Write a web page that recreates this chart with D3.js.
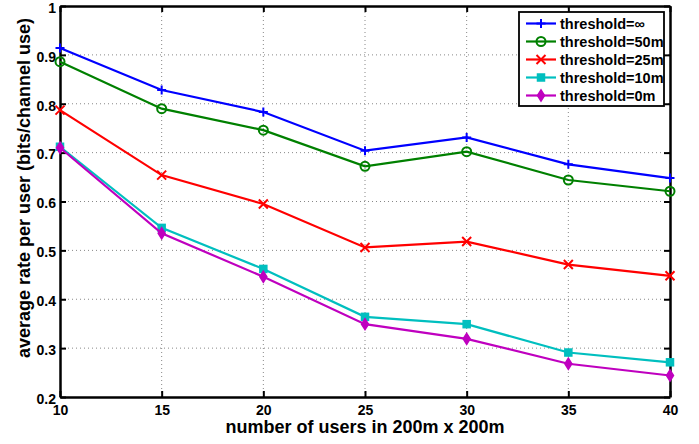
<!DOCTYPE html>
<html>
<head>
<meta charset="utf-8">
<script src="https://cdn.jsdelivr.net/npm/d3@7"></script>
<style>
  body { margin: 0; background: #fff; }
  svg text { font-family: "Liberation Sans", Arial, sans-serif; font-weight: bold; }
</style>
</head>
<body>
<div id="chart"></div>
<script>
// number of users in 200m x 200m
const users = [10, 15, 20, 25, 30, 35, 40];

// average rate per user, one list per threshold
const thrInf = [0.914, 0.828, 0.783, 0.704, 0.731, 0.676, 0.648];
const thr50 = [0.886, 0.790, 0.746, 0.672, 0.702, 0.644, 0.621];
const thr25 = [0.787, 0.654, 0.595, 0.506, 0.518, 0.471, 0.448];
const thr10 = [0.712, 0.546, 0.462, 0.364, 0.349, 0.291, 0.271];
const thr0 = [0.710, 0.535, 0.446, 0.349, 0.319, 0.268, 0.244];

const seriesNames = ['threshold=\u221e', 'threshold=50m', 'threshold=25m', 'threshold=10m', 'threshold=0m'];
const xTicks = [10, 15, 20, 25, 30, 35, 40];
const yTicks = [0.2, 0.3, 0.4, 0.5, 0.6, 0.7, 0.8, 0.9, 1];

const width = 699;
const height = 444;
const margin = { top: 6, right: 29, bottom: 47, left: 60 };

const series = [
  { name: seriesNames[0], values: thrInf, color: '#0000ff', marker: 'plus' },
  { name: seriesNames[1], values: thr50, color: '#008000', marker: 'circle' },
  { name: seriesNames[2], values: thr25, color: '#ff0000', marker: 'cross' },
  { name: seriesNames[3], values: thr10, color: '#00bfbf', marker: 'square' },
  { name: seriesNames[4], values: thr0, color: '#bf00bf', marker: 'diamond' },
];

const svg = d3.select('#chart').append('svg')
  .attr('width', width)
  .attr('height', height);

const x = d3.scaleLinear().domain([10, 40]).range([margin.left, width - margin.right]);
const y = d3.scaleLinear().domain([0.2, 1]).range([height - margin.bottom, margin.top]);

const x0 = x.range()[0], x1 = x.range()[1];
const y0 = y.range()[0], y1 = y.range()[1];

// dotted grid
const grid = svg.append('g').attr('stroke', '#888').attr('stroke-width', 1)
  .attr('stroke-dasharray', '1,3');
grid.selectAll('.gx').data(xTicks.slice(1, -1)).enter().append('line')
  .attr('x1', d => x(d)).attr('x2', d => x(d))
  .attr('y1', y0).attr('y2', y1);
grid.selectAll('.gy').data(yTicks.slice(1, -1)).enter().append('line')
  .attr('x1', x0).attr('x2', x1)
  .attr('y1', d => y(d)).attr('y2', d => y(d));

// axes (matlab box style, ticks inward on all sides)
const tickLen = 6;
const axisFont = 14;
svg.append('g').attr('transform', `translate(0,${y0})`)
  .call(d3.axisBottom(x).tickValues(xTicks).tickSizeInner(-tickLen).tickSizeOuter(0).tickPadding(8))
  .call(g => g.selectAll('text').attr('font-size', axisFont).attr('fill', '#000'));
svg.append('g').attr('transform', `translate(${x0},0)`)
  .call(d3.axisLeft(y).tickValues(yTicks).tickFormat(d3.format('~g')).tickSizeInner(-tickLen).tickSizeOuter(0).tickPadding(4))
  .call(g => g.selectAll('text').attr('font-size', axisFont).attr('fill', '#000').attr('dy', '0.45em'));
svg.append('g').attr('transform', `translate(0,${y1})`)
  .call(d3.axisTop(x).tickValues(xTicks).tickSizeInner(-tickLen).tickSizeOuter(0).tickFormat(''));
svg.append('g').attr('transform', `translate(${x1},0)`)
  .call(d3.axisRight(y).tickValues(yTicks).tickSizeInner(-tickLen).tickSizeOuter(0).tickFormat(''));
svg.selectAll('.domain').attr('stroke', '#000').attr('stroke-width', 2.5);
svg.selectAll('.tick line').attr('stroke', '#000').attr('stroke-width', 2);

// axis titles
svg.append('text')
  .attr('x', (x0 + x1) / 2).attr('y', 433)
  .attr('text-anchor', 'middle').attr('font-size', 18)
  .text('number of users in 200m x 200m');
svg.append('text')
  .attr('transform', 'translate(30,188) rotate(-90)')
  .attr('text-anchor', 'middle').attr('font-size', 18)
  .text('average rate per user (bits/channel use)');

function drawMarker(g, type, color) {
  const s = 4.5;
  if (type === 'plus') {
    g.append('path').attr('d', `M${-s},0H${s}M0,${-s}V${s}`)
      .attr('stroke', color).attr('stroke-width', 2).attr('fill', 'none');
  } else if (type === 'circle') {
    g.append('circle').attr('r', s).attr('stroke', color).attr('stroke-width', 2).attr('fill', 'none');
  } else if (type === 'cross') {
    g.append('path').attr('d', `M${-s},${-s}L${s},${s}M${-s},${s}L${s},${-s}`)
      .attr('stroke', color).attr('stroke-width', 2).attr('fill', 'none');
  } else if (type === 'square') {
    g.append('rect').attr('x', -3.5).attr('y', -3.5).attr('width', 7).attr('height', 7)
      .attr('fill', color).attr('stroke', color).attr('stroke-width', 1.5);
  } else if (type === 'diamond') {
    g.append('path').attr('d', `M0,${-s - 1}L${s - 1},0L0,${s + 1}L${-s + 1},0Z`)
      .attr('fill', color).attr('stroke', color).attr('stroke-width', 1.5);
  }
}

const line = d3.line().x((d, i) => x(users[i])).y(d => y(d));

series.forEach(s => {
  svg.append('path').datum(s.values)
    .attr('d', line).attr('fill', 'none')
    .attr('stroke', s.color).attr('stroke-width', 2.2);
  s.values.forEach((v, i) => {
    const g = svg.append('g').attr('transform', `translate(${x(users[i])},${y(v)})`);
    drawMarker(g, s.marker, s.color);
  });
});

// legend
const legend = svg.append('g').attr('transform', 'translate(519,12)');
legend.append('rect').attr('width', 145).attr('height', 94)
  .attr('fill', '#fff').attr('stroke', '#000').attr('stroke-width', 1.8);
series.forEach((s, i) => {
  const ly = 11.5 + i * 18;
  const g = legend.append('g').attr('transform', `translate(0,${ly})`);
  g.append('line').attr('x1', 7).attr('x2', 37).attr('y1', 0).attr('y2', 0)
    .attr('stroke', s.color).attr('stroke-width', 2.2);
  drawMarker(g.append('g').attr('transform', 'translate(22,0)'), s.marker, s.color);
  g.append('text').attr('x', 41).attr('y', 5).attr('font-size', 14.5).text(s.name);
});
</script>
</body>
</html>
